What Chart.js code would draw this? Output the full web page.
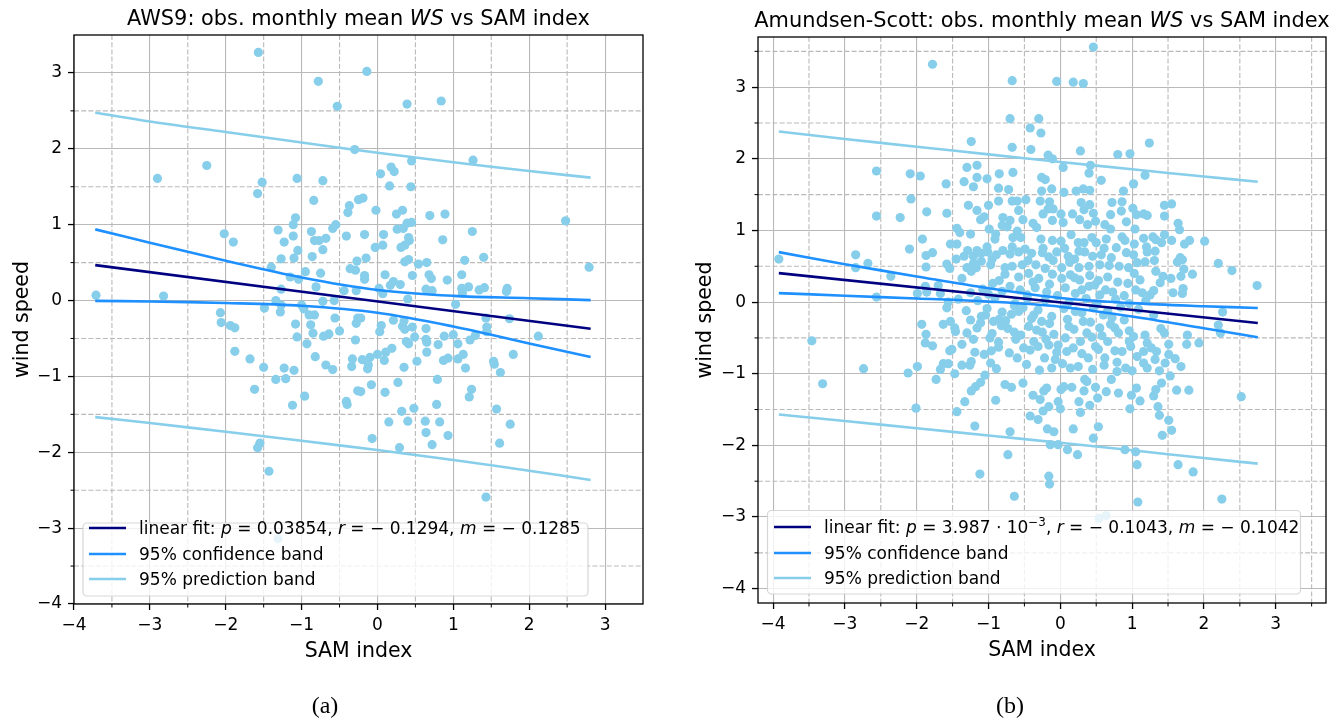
<!DOCTYPE html>
<html>
<head>
<meta charset="utf-8">
<script src="https://cdn.jsdelivr.net/npm/chart.js@4.4.1/dist/chart.umd.min.js"></script>
<style>
  body { margin: 0; background: #fff; width: 1340px; height: 723px; overflow: hidden; position: relative; }
  canvas { position: absolute; top: 0; }
  #c1 { left: 0; }
  #c2 { left: 670px; }
  .cap { position: absolute; top: 692px; font: 24px 'Liberation Serif', serif; transform: translateX(-50%); color: #000; }
</style>
</head>
<body>
<canvas id="c1" width="670" height="723"></canvas>
<canvas id="c2" width="670" height="723"></canvas>
<div class="cap" style="left:325px">(a)</div>
<div class="cap" style="left:1010px">(b)</div>
<script>
// tick labels
const tickVals = [-4, -3, -2, -1, 0, 1, 2, 3];
const minorVals = [-4.5, -3.5, -2.5, -1.5, -0.5, 0.5, 1.5, 2.5, 3.5];

// ---- (a) AWS9 ----
const aws9Pts = [
  [-1.57,3.27],[-0.78,2.89],[-0.53,2.56],[-0.30,1.99],[-2.25,1.78],[-2.90,1.61],[-1.52,1.56],[-1.58,1.41],[-1.06,1.61],[-0.72,1.58],
  [-0.84,1.32],[-0.25,1.33],[-0.37,1.25],[-0.39,1.16],[-1.08,1.09],[-1.11,1.00],[-0.55,1.00],[-0.59,0.95],[-1.31,0.93],[-2.02,0.88],
  [-1.90,0.77],[-1.11,0.85],[-1.23,0.77],[-0.87,0.91],[-0.83,0.79],[-0.77,0.79],[-0.68,0.82],[-0.72,0.67],[-0.41,0.85],[-1.05,0.66],
  [-1.27,0.55],[-1.10,0.56],[-0.86,0.58],[-0.27,0.52],[-1.40,0.44],[-0.36,0.42],[-0.29,0.40],[-0.95,0.38],[-0.75,0.36],[-1.15,0.31],
  [-1.04,0.28],[-0.81,0.18],[-1.27,0.15],[-0.44,0.13],[-0.28,0.13],[-3.71,0.07],[-2.82,0.06],[-1.34,0.00],[-0.72,-0.01],[-0.57,0.00],
  [-1.27,-0.06],[-1.00,-0.06],
  [-0.14,3.02],[0.39,2.59],[0.84,2.63],[0.45,1.84],[1.26,1.85],[0.04,1.67],[0.18,1.76],[0.22,1.70],[0.16,1.51],[0.44,1.50],
  [-0.19,1.35],[-0.02,1.19],[0.25,1.14],[0.33,1.19],[0.69,1.12],[0.89,1.14],[2.48,1.05],[0.39,1.02],[0.45,1.03],[0.26,0.94],
  [0.34,0.95],[-0.17,0.87],[0.08,0.87],[1.25,0.91],[0.41,0.83],[0.42,0.79],[0.86,0.80],[-0.03,0.70],[0.07,0.73],[0.31,0.70],
  [0.36,0.73],[-0.15,0.56],[0.36,0.51],[0.41,0.54],[0.54,0.48],[0.65,0.50],[1.15,0.53],[1.40,0.57],[2.79,0.44],[-0.17,0.33],
  [-0.17,0.28],[0.10,0.34],[0.46,0.33],[0.68,0.34],[0.71,0.29],[0.92,0.27],[1.11,0.34],[0.21,0.25],[0.30,0.21],[0.17,0.20],
  [0.64,0.15],[0.72,0.13],[1.11,0.16],[1.20,0.18],[1.34,0.14],[1.41,0.17],[1.71,0.16],[1.70,0.12],[0.02,0.16],[0.07,0.09],
  [0.40,0.02],[1.03,-0.05],[1.12,0.10],
  [-2.07,-0.16],[-2.06,-0.29],[-1.94,-0.33],[-1.88,-0.36],[-1.88,-0.67],[-1.68,-0.77],[-1.50,-0.88],[-1.23,-0.89],[-1.10,-0.92],[-1.34,-1.04],
  [-1.21,-1.03],[-1.62,-1.17],[-0.96,-1.26],[-1.12,-1.38],[-1.55,-1.88],[-1.58,-1.94],[-1.43,-2.25],[-1.31,-3.14],[-1.49,-0.10],[-1.28,-0.15],
  [-1.08,-0.31],[-1.06,-0.48],[-0.90,-0.19],[-0.83,-0.19],[-0.88,-0.32],[-0.85,-0.43],[-0.93,-0.57],[-0.82,-0.74],[-0.68,-0.85],[-0.59,-0.91],
  [-0.56,-0.23],[-0.71,-0.47],[-0.64,-0.44],[-0.50,-0.40],[-0.28,-0.30],[-0.26,-0.23],[-0.29,-0.52],[-0.33,-0.77],[-0.34,-0.87],[-0.26,-1.19],
  [-0.41,-1.33],[-0.40,-1.37],[-0.97,-0.11],
  [-0.22,-0.23],[0.05,-0.33],[0.03,-0.41],[0.21,-0.26],[0.35,-0.27],[0.33,-0.34],[0.36,-0.38],[0.46,-0.35],[0.38,-0.54],[0.41,-0.57],
  [0.49,-0.48],[0.64,-0.37],[0.64,-0.51],[0.65,-0.55],[0.80,-0.58],[0.88,-0.47],[1.00,-0.45],[1.06,-0.57],[1.22,-0.52],[1.29,-0.46],
  [1.44,-0.35],[1.44,-0.41],[1.43,-0.23],[1.74,-0.24],[2.12,-0.47],[1.79,-0.71],[1.53,-0.80],[1.54,-0.84],[1.62,-0.95],[-0.20,-0.78],
  [-0.10,-0.75],[-0.12,-0.85],[-0.13,-0.90],[0.00,-0.71],[0.09,-0.79],[0.19,-0.63],[0.11,-0.68],[0.35,-0.88],[0.52,-0.80],[0.65,-0.68],
  [0.87,-0.79],[0.93,-0.76],[1.06,-0.77],[1.13,-0.71],[1.16,-0.89],[-0.08,-1.11],[0.27,-1.08],[0.10,-1.21],[0.79,-1.04],[1.24,-1.17],
  [1.21,-1.27],[0.78,-1.37],[0.48,-1.42],[0.32,-1.46],[0.15,-1.60],[0.40,-1.59],[0.63,-1.59],[0.82,-1.60],[0.64,-1.74],[0.93,-1.78],
  [0.72,-1.90],[0.29,-1.94],[-0.07,-1.82],[1.57,-1.43],[1.75,-1.63],[1.61,-1.88],[1.43,-2.59],[-0.22,-1.20]
];
const aws9FitX = [-3.72, 2.81];
const aws9FitY = [0.467, -0.372];
const aws9BandX = [-3.72, -3, -2, -1, 0, 1, 2, 2.81];
const aws9ConfHi = [0.938, 0.763, 0.524, 0.303, 0.139, 0.062, 0.031, 0.005];
const aws9ConfLo = [-0.004, -0.013, -0.032, -0.069, -0.161, -0.342, -0.567, -0.745];
const aws9PredHi = [2.476, 2.36, 2.221, 2.082, 1.949, 1.822, 1.707, 1.620];
const aws9PredLo = [-1.537, -1.615, -1.729, -1.848, -1.971, -2.102, -2.243, -2.366];

// ---- (b) Amundsen-Scott ----
const spPts = [
  [-1.78,3.32],[-2.56,1.83],[-2.09,1.79],[-1.95,1.76],[-1.59,1.65],[-2.08,1.44],[-2.56,1.20],[-2.23,1.18],[-1.86,1.26],[-1.58,1.24],
  [-1.92,0.88],[-2.10,0.74],[-1.87,0.65],[-1.78,0.69],[-1.53,0.81],[-2.85,0.66],[-2.85,0.48],[-2.68,0.54],[-3.92,0.60],[-2.36,0.36],
  [-1.87,0.49],[-1.58,0.53],[-1.54,0.47],[-1.88,0.22],[-1.70,0.23],[-1.86,0.14],[-1.67,0.12],[-1.99,0.12],[-2.56,0.07],[-1.56,0.00],
  [0.46,3.56],[-0.67,3.09],[-0.05,3.08],[0.18,3.07],[0.32,3.05],[-0.70,2.56],[-0.30,2.56],[-0.42,2.43],[-0.27,2.36],[-1.24,2.24],
  [-0.67,2.16],[-0.41,2.13],[0.28,2.11],[-0.17,2.05],[-0.11,2.00],[0.80,2.06],[0.97,2.07],[-1.30,1.88],[-1.16,1.91],[-0.85,1.79],
  [-0.66,1.81],[0.04,1.88],[0.42,1.91],[0.40,1.80],[-1.34,1.68],[-1.16,1.74],[-1.21,1.61],[-1.02,1.72],[-0.26,1.74],[-0.21,1.71],
  [-0.26,1.55],[-0.12,1.58],[-0.86,1.59],[-0.72,1.57],[0.05,1.53],[0.22,1.55],[0.32,1.58],[0.41,1.56],[0.57,1.70],[0.88,1.55],
  [1.02,1.65],[-1.28,1.35],[-1.16,1.28],[-1.00,1.35],[-0.86,1.41],[-0.67,1.41],[-0.60,1.41],[-0.48,1.43],[-0.28,1.41],[-0.15,1.40],
  [-0.17,1.30],[-0.24,1.23],[0.01,1.23],[0.17,1.23],[0.29,1.39],[0.41,1.36],[0.33,1.29],[0.46,1.24],[0.72,1.39],[0.86,1.40],
  [0.85,1.27],[1.01,1.31],[1.06,1.22],[-1.11,1.15],[-1.06,1.19],[-0.80,1.18],[-0.70,1.14],[-0.52,1.15],[-0.81,1.07],[-0.74,1.05],
  [-0.38,1.10],[-0.33,1.04],[-0.11,1.14],[0.04,1.11],[0.27,1.15],[0.38,1.08],[0.49,1.13],[0.62,1.08],[0.70,1.02],[0.92,1.12],
  [1.04,1.02],[-1.44,1.03],[-1.40,0.97],[-1.25,0.95],[-0.99,1.02],[-0.90,0.95],[-0.91,0.88],[-0.60,0.99],[-0.66,0.90],[-0.55,0.90],
  [-0.27,0.88],[-0.11,0.86],[0.01,0.85],[0.15,0.94],[0.25,0.83],[0.33,0.83],[0.44,0.90],[0.50,0.83],[0.64,0.88],[0.86,0.91],
  [0.90,0.86],[1.03,0.81],[-1.44,0.81],[-1.16,0.72],[-1.02,0.77],[-1.01,0.70],[-0.80,0.72],[-0.67,0.77],[-0.70,0.67],[-0.58,0.70],
  [-0.40,0.68],[-0.24,0.75],[-0.25,0.69],[-0.16,0.63],[-0.05,0.70],[0.06,0.75],[0.11,0.64],[0.20,0.60],[0.34,0.70],[0.45,0.64],
  [0.57,0.66],[0.71,0.62],[0.78,0.76],[0.92,0.69],[1.02,0.66],[-1.45,0.60],[-1.34,0.64],[-1.21,0.64],[-1.21,0.54],[-1.10,0.68],
  [-1.10,0.57],[-0.95,0.60],[-0.97,0.52],[-0.77,0.48],[-0.67,0.50],[-0.53,0.52],[-0.45,0.58],[-0.34,0.52],[-0.21,0.47],[-0.10,0.58],
  [0.02,0.48],[0.13,0.56],[0.26,0.48],[0.40,0.50],[0.55,0.52],[0.68,0.51],[0.82,0.50],[0.95,0.48],[1.07,0.55],[-1.30,0.48],
  [-1.24,0.43],[-1.17,0.48],[-0.77,0.39],[-0.58,0.35],[-0.44,0.40],[-0.30,0.33],[-0.11,0.39],[0.02,0.33],[0.14,0.38],[0.27,0.31],
  [0.41,0.37],[0.53,0.30],[0.66,0.35],[0.80,0.28],[0.94,0.26],[1.03,0.40],[-1.37,0.33],[-1.08,0.18],[-0.94,0.26],[-0.70,0.22],
  [-0.56,0.17],[-0.35,0.20],[0.07,0.20],[0.30,0.17],[0.40,0.22],[0.63,0.17],[1.05,0.17],
  [1.24,2.22],[1.18,1.77],[1.45,1.35],[1.55,1.37],[1.16,1.23],[1.21,1.21],[1.45,1.20],[1.64,1.10],[1.66,1.01],[1.16,0.89],
  [1.29,0.91],[1.33,0.87],[1.41,0.83],[1.45,0.94],[1.20,0.77],[1.21,0.70],[1.32,0.71],[1.55,0.86],[1.73,0.81],[1.80,0.86],
  [2.01,0.85],[1.18,0.56],[1.31,0.58],[1.63,0.56],[1.67,0.62],[1.70,0.59],[2.20,0.54],[2.39,0.44],[1.33,0.43],[1.72,0.46],
  [1.68,0.36],[1.84,0.39],[1.43,0.36],[1.54,0.33],[1.39,0.27],[2.74,0.23],[1.30,0.16],[1.71,0.19],[1.57,0.13],[1.70,0.12],
  [1.25,0.10],[1.11,0.31],
  [-1.93,-0.31],[-1.87,-0.45],[-1.88,-0.57],[-1.78,-0.61],[-1.63,-0.31],[-1.53,-0.27],[-1.54,-0.68],[-1.56,-0.86],[-1.63,-0.86],[-1.67,-0.94],
  [-1.73,-1.08],[-1.99,-0.90],[-2.12,-0.99],[-2.01,-1.48],[-2.74,-0.93],[-3.31,-1.14],[-3.46,-0.54],[-1.58,-0.08],
  [-1.12,-2.40],[-0.64,-2.71],[-0.16,-2.43],[-0.15,-2.54],[-0.73,-2.13],[-1.19,-1.73],[-0.70,-1.81],[-0.18,-1.77],[-0.09,-1.81],[-0.14,-1.99],
  [-0.03,-1.99],[0.10,-2.06],[0.24,-2.13],[0.18,-1.77],[0.46,-1.90],[0.53,-1.74],[0.90,-2.06],[1.05,-2.09],[1.07,-2.27],[1.08,-2.79],
  [0.64,-2.98],[0.54,-3.02],[-1.44,-1.53],[-1.33,-1.39],[-1.24,-1.24],[-1.18,-1.18],[-1.11,-1.12],[-1.05,-1.02],[-0.90,-1.37],[-0.77,-1.15],
  [-0.68,-1.19],[-0.52,-1.13],[-0.42,-1.59],[-0.38,-1.30],[-0.31,-1.64],[-0.28,-1.36],[-0.23,-1.24],[-0.19,-1.20],[-0.16,-1.46],[-0.24,-1.52],
  [-0.03,-1.39],[0.00,-1.49],[0.01,-1.22],[0.05,-1.18],[0.16,-1.19],[0.26,-1.39],[0.28,-1.54],[0.33,-1.24],[0.37,-1.11],[0.41,-1.44],
  [0.49,-1.19],[0.52,-1.34],[0.64,-1.25],[0.71,-1.08],[0.81,-1.27],[0.97,-1.49],[0.99,-1.30],[1.06,-1.20],[-1.47,-1.00],[-1.37,-0.88],
  [-1.24,-0.83],[-1.30,-0.43],[-1.25,-0.25],[-1.11,-0.29],[-1.04,-0.18],[-1.06,-0.73],[-0.96,-0.68],[-0.97,-0.85],[-0.86,-0.56],[-0.82,-0.33],
  [-0.76,-0.26],[-0.68,-0.17],[-0.64,-0.42],[-0.60,-0.78],[-0.51,-0.64],[-0.44,-0.34],[-0.37,-0.55],[-0.26,-0.27],[-0.25,-0.42],[-0.22,-0.78],
  [-0.12,-0.92],[-0.07,-0.80],[-0.16,-0.60],[-0.03,-0.60],[0.07,-0.50],[0.12,-0.34],[0.09,-0.69],[0.14,-0.92],[0.25,-0.90],[0.32,-0.27],
  [0.34,-1.08],[0.39,-0.78],[0.44,-0.49],[0.49,-0.62],[0.55,-0.36],[0.62,-0.78],[0.66,-0.55],[0.72,-0.22],[0.79,-0.97],[0.81,-0.43],
  [0.86,-0.69],[0.91,-0.92],[1.02,-0.48],[1.07,-0.76],[-1.37,-0.59],[-1.47,-0.36],[-1.21,-0.52],[-0.93,-0.27],[-0.58,-0.13],[-0.37,-0.18],
  [-0.12,-0.20],[0.30,-0.15],[0.60,-0.18],[0.89,-0.25],
  [1.30,-0.18],[1.18,-0.46],[1.40,-0.37],[1.45,-0.43],[1.21,-0.57],[1.27,-0.64],[1.34,-0.69],[1.16,-0.69],[1.32,-0.80],[1.16,-0.85],
  [1.46,-0.85],[1.21,-0.92],[1.38,-0.96],[1.51,-0.59],[1.51,-0.73],[1.60,-0.79],[1.68,-0.90],[1.53,-1.03],[1.76,-0.59],[1.77,-0.46],
  [1.93,-0.57],[2.20,-0.32],[2.23,-0.43],[2.26,-0.14],[1.41,-1.13],[1.33,-1.22],[1.30,-1.31],[1.11,-1.38],[1.62,-1.23],[1.79,-1.23],
  [2.52,-1.32],[1.36,-1.46],[1.38,-1.58],[1.51,-1.65],[1.55,-1.79],[1.42,-1.86],[1.64,-2.27],[1.85,-2.37],[2.25,-2.75],
  // dense core, read more roughly
  [-1.42,0.04],[-1.15,0.02],[-0.91,0.06],[-0.63,-0.02],[-0.46,0.05],[-0.21,0.03],[0.12,-0.01],[0.36,0.05],[0.51,-0.03],[0.77,0.04],
  [0.96,-0.02],[1.19,0.02],[-1.31,-0.12],[-1.02,-0.09],[-0.81,-0.14],[-0.52,-0.08],[-0.31,-0.11],[0.05,-0.09],[0.21,-0.13],[0.46,-0.08],
  [0.66,-0.12],[0.84,-0.07],[1.09,-0.10],[-1.46,-0.41],[-1.16,-0.36],[-0.95,-0.44],[-0.73,-0.37],[-0.55,-0.46],[-0.33,-0.39],[-0.09,-0.45],
  [0.19,-0.38],[0.37,-0.43],[0.58,-0.47],[0.76,-0.36],[0.96,-0.40],[-1.51,-0.66],[-1.19,-0.70],[-0.86,-0.63],[-0.71,-0.71],[-0.42,-0.67],
  [-0.31,-0.62],[-0.05,-0.70],[0.18,-0.64],[0.30,-0.72],[0.53,-0.66],[0.76,-0.68],[0.98,-0.62],[-1.26,-0.88],[-0.89,-0.93],[-0.47,-0.87],
  [-0.29,-0.95],[0.03,-0.86],[0.45,-0.94],[0.61,-0.88],[0.79,-0.84],[1.00,-0.96],[-1.25,0.13],[-1.00,0.11],[-0.81,0.15],[-0.46,0.10],
  [-0.19,0.14],[-0.04,0.09],[0.21,0.12],[0.55,0.10],[0.73,0.14],[0.89,0.09],[1.14,0.13],[-1.29,0.72],[-0.89,0.66],[-0.49,0.74],
  [0.26,0.71],[0.61,0.75],[-0.64,-0.05],[-0.40,-0.23],[-0.15,-0.30],[0.10,-0.24],[0.42,-0.28],[0.70,-0.31],[-0.85,-0.24],[-1.10,-0.20],
  [-0.62,-0.52],[-0.20,-0.52],[0.28,-0.55],[0.96,-0.55],[-0.98,-0.50],[-0.38,0.28],[-0.15,0.25],[0.48,0.24],[-0.85,0.30],[0.20,0.34],
  [-0.58,1.28],[-0.10,1.30],[0.70,1.22]
];
const spFitX = [-3.92, 2.75];
const spFitY = [0.404, -0.291];
const spBandX = [-3.92, -3, -2, -1, 0, 1, 2, 2.75];
const spConfHi = [0.697, 0.529, 0.358, 0.193, 0.056, -0.015, -0.058, -0.082];
const spConfLo = [0.125, 0.089, 0.050, 0.007, -0.064, -0.201, -0.366, -0.492];
const spPredHi = [2.380, 2.276, 2.169, 2.062, 1.956, 1.853, 1.753, 1.680];
const spPredLo = [-1.570, -1.660, -1.761, -1.862, -1.964, -2.069, -2.177, -2.255];

const SKY = '#87ceeb', DODGER = '#1e90ff', NAVY = '#000080', GRID = '#b9b9b9';
const FONT = "'DejaVu Sans', sans-serif";

function curve(xs, ys, color) {
  return {
    type: 'line',
    data: xs.map((x, i) => ({ x, y: ys[i] })),
    borderColor: color,
    borderWidth: 2.6,
    pointRadius: 0,
    tension: 0.35,
    fill: false
  };
}

function fmtTick(v) {
  return v < 0 ? '\u2212' + Math.abs(v) : String(v);
}

// draw text made of plain / italic / superscript pieces
function drawRich(ctx, segs, x, y, size, align) {
  const fontFor = k => (k === 'i' ? 'italic ' : '') + (k === 's' ? size * 0.7 : size) + 'px ' + FONT;
  let w = 0;
  segs.forEach(([t, k]) => { ctx.font = fontFor(k); w += ctx.measureText(t).width; });
  let cx = align === 'center' ? x - w / 2 : x;
  ctx.textAlign = 'left';
  segs.forEach(([t, k]) => {
    ctx.font = fontFor(k);
    ctx.fillText(t, cx, k === 's' ? y - size * 0.42 : y);
    cx += ctx.measureText(t).width;
  });
}

const decor = {
  id: 'decor',
  beforeDatasetsDraw(chart, args, o) {
    const { ctx, chartArea: ca, scales: { x, y } } = chart;
    ctx.save();
    ctx.strokeStyle = GRID;
    ctx.lineWidth = 1.1;
    ctx.setLineDash([5, 2.2]);
    minorVals.forEach(v => {
      if (v > x.min && v < x.max) {
        const px = x.getPixelForValue(v);
        ctx.beginPath(); ctx.moveTo(px, ca.top); ctx.lineTo(px, ca.bottom); ctx.stroke();
      }
      if (v > y.min && v < y.max) {
        const py = y.getPixelForValue(v);
        ctx.beginPath(); ctx.moveTo(ca.left, py); ctx.lineTo(ca.right, py); ctx.stroke();
      }
    });
    ctx.restore();
  },
  afterDraw(chart, args, o) {
    const { ctx, chartArea: ca, scales: { x, y } } = chart;
    ctx.save();
    // frame
    ctx.strokeStyle = '#000';
    ctx.lineWidth = 1.3;
    ctx.strokeRect(ca.left, ca.top, ca.right - ca.left, ca.bottom - ca.top);
    // minor ticks
    ctx.lineWidth = 1;
    minorVals.forEach(v => {
      if (v > x.min && v < x.max) {
        const px = x.getPixelForValue(v);
        ctx.beginPath(); ctx.moveTo(px, ca.bottom); ctx.lineTo(px, ca.bottom + 3.5); ctx.stroke();
      }
      if (v > y.min && v < y.max) {
        const py = y.getPixelForValue(v);
        ctx.beginPath(); ctx.moveTo(ca.left, py); ctx.lineTo(ca.left - 3.5, py); ctx.stroke();
      }
    });

    ctx.fillStyle = '#000';
    ctx.textBaseline = 'alphabetic';
    const midX = (ca.left + ca.right) / 2;
    drawRich(ctx, o.title, midX, ca.top - 10, 20.9, 'center');
    drawRich(ctx, [['SAM index', 'n']], midX, ca.bottom + 53, 20.5, 'center');
    ctx.save();
    ctx.translate(o.yLabelX, (ca.top + ca.bottom) / 2);
    ctx.rotate(-Math.PI / 2);
    drawRich(ctx, [['wind speed', 'n']], 0, 0, 20.5, 'center');
    ctx.restore();

    // legend
    const L = o.legend;
    ctx.beginPath();
    ctx.roundRect(L.box[0], L.box[1], L.box[2], L.box[3], 4);
    ctx.fillStyle = 'rgba(255,255,255,0.8)';
    ctx.fill();
    ctx.strokeStyle = 'rgba(204,204,204,0.8)';
    ctx.lineWidth = 1.2;
    ctx.stroke();
    const colors = [NAVY, DODGER, SKY];
    const labels = [o.fitLabel, [['95% confidence band', 'n']], [['95% prediction band', 'n']]];
    L.rows.forEach((ry, i) => {
      ctx.strokeStyle = colors[i];
      ctx.lineWidth = 2.6;
      ctx.beginPath(); ctx.moveTo(L.handle[0], ry); ctx.lineTo(L.handle[1], ry); ctx.stroke();
      ctx.fillStyle = '#000';
      drawRich(ctx, labels[i], L.textX, ry + 6, 17, 'left');
    });
    ctx.restore();
  }
};

function panel(id, o) {
  const axisBase = {
    type: 'linear',
    afterBuildTicks: s => { s.ticks = tickVals.map(v => ({ value: v })); },
    border: { display: false },
    grid: { color: GRID, lineWidth: 1.1, tickLength: 6, tickColor: '#000', tickWidth: 1.3 },
    ticks: { font: { family: FONT, size: 17 }, color: '#000', autoSkip: false, maxRotation: 0, callback: fmtTick }
  };
  new Chart(document.getElementById(id), {
    type: 'scatter',
    data: {
      datasets: [
        curve(o.fitX, o.fitY, NAVY),
        curve(o.bandX, o.confHi, DODGER),
        curve(o.bandX, o.confLo, DODGER),
        curve(o.bandX, o.predHi, SKY),
        curve(o.bandX, o.predLo, SKY),
        { data: o.pts.map(([x, y]) => ({ x, y })), backgroundColor: SKY, pointRadius: 4.6, borderWidth: 0 }
      ]
    },
    options: {
      responsive: false,
      animation: false,
      events: [],
      layout: { padding: o.padding },
      plugins: {
        legend: { display: false },
        tooltip: { enabled: false },
        decor: o.decor
      },
      scales: {
        x: Object.assign({}, axisBase, {
          min: o.xRange[0], max: o.xRange[1],
          ticks: Object.assign({}, axisBase.ticks, { padding: 5 }),
          afterFit: s => { s.height = 60; }
        }),
        y: Object.assign({}, axisBase, {
          min: o.yRange[0], max: o.yRange[1],
          ticks: Object.assign({}, axisBase.ticks, { padding: 6 }),
          afterFit: s => { s.width = o.yWidth; }
        })
      }
    },
    plugins: [decor]
  });
}

panel('c1', {
  pts: aws9Pts, fitX: aws9FitX, fitY: aws9FitY, bandX: aws9BandX,
  confHi: aws9ConfHi, confLo: aws9ConfLo, predHi: aws9PredHi, predLo: aws9PredLo,
  xRange: [-4, 3.5], yRange: [-4, 3.5],
  yWidth: 74,
  padding: { left: 0, top: 35, right: 27, bottom: 59 },
  decor: {
    title: [['AWS9: obs. monthly mean ', 'n'], ['WS', 'i'], [' vs SAM index', 'n']],
    fitLabel: [['linear fit: ', 'n'], ['p', 'i'], [' = 0.03854, ', 'n'], ['r', 'i'], [' = \u2212 0.1294, ', 'n'], ['m', 'i'], [' = \u2212 0.1285', 'n']],
    yLabelX: 28,
    legend: { box: [83, 523, 505, 73], rows: [528, 554, 579], handle: [89, 126], textX: 139 }
  }
});

panel('c2', {
  pts: spPts, fitX: spFitX, fitY: spFitY, bandX: spBandX,
  confHi: spConfHi, confLo: spConfLo, predHi: spPredHi, predLo: spPredLo,
  xRange: [-4.21, 3.70], yRange: [-4.20, 3.70],
  yWidth: 88,
  padding: { left: 0, top: 37, right: 14, bottom: 60 },
  decor: {
    title: [['Amundsen-Scott: obs. monthly mean ', 'n'], ['WS', 'i'], [' vs SAM index', 'n']],
    fitLabel: [['linear fit: ', 'n'], ['p', 'i'], [' = 3.987 \u22C5 10', 'n'], ['\u22123', 's'], [', ', 'n'], ['r', 'i'], [' = \u2212 0.1043, ', 'n'], ['m', 'i'], [' = \u2212 0.1042', 'n']],
    yLabelX: 41,
    legend: { box: [97.5, 510.5, 533, 83.5], rows: [527, 553, 578], handle: [104, 141], textX: 154 }
  }
});
</script>
</body>
</html>
